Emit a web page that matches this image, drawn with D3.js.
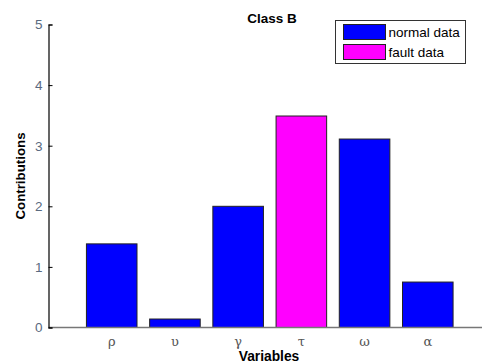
<!DOCTYPE html>
<html>
<head>
<meta charset="utf-8">
<script src="https://cdn.jsdelivr.net/npm/d3@7"></script>
<style>
  html, body { margin: 0; padding: 0; background: #fff; }
  svg { display: block; }
</style>
</head>
<body>
<svg id="chart" width="482" height="364"></svg>
<script>
// Contribution of each variable for Class B
const variables = ["ρ", "υ", "γ", "τ", "ω", "α"];
const contributions = [1.38, 0.14, 2.0, 3.49, 3.11, 0.75];
const isFault = [false, false, false, true, false, false];
const yTicks = [0, 1, 2, 3, 4, 5];
const legendLabels = ["normal data", "fault data"];
const legendColors = ["#0000ff", "#ff00ff"];

const svg = d3.select("#chart");
const W = 482, H = 364;
const sans = "Arial, 'Liberation Sans', sans-serif";

// Plot area: x positions 0..7 (categories at 1..6), y from 0 to 5
const x = d3.scaleLinear().domain([0, 7]).range([48.5, 491]);
const y = d3.scaleLinear().domain([0, 5]).range([327.5, 24.5]);
const step = x(1) - x(0);
const barW = step * 0.8;

// Bars
svg.append("g").selectAll("rect")
  .data(variables)
  .join("rect")
  .attr("x", (d, i) => x(i + 1) - barW / 2)
  .attr("y", (d, i) => y(contributions[i]))
  .attr("width", barW)
  .attr("height", (d, i) => y(0) - y(contributions[i]))
  .attr("fill", (d, i) => isFault[i] ? legendColors[1] : legendColors[0])
  .attr("stroke", "#222")
  .attr("stroke-width", 1);

// Bottom axis line (grey), category labels
svg.append("line")
  .attr("x1", x(0)).attr("x2", W)
  .attr("y1", y(0)).attr("y2", y(0))
  .attr("stroke", "#777").attr("stroke-width", 1.6);

svg.append("g").selectAll("text")
  .data(variables)
  .join("text")
  .attr("x", (d, i) => x(i + 1))
  .attr("y", 346)
  .attr("text-anchor", "middle")
  .attr("font-family", "'DejaVu Serif', 'Liberation Serif', serif")
  .attr("font-size", 13)
  .attr("fill", "#555")
  .text(d => d);

// Left axis
const yAxis = d3.axisLeft(y).tickValues(yTicks).tickSize(-4).tickPadding(6).tickFormat(d3.format("d"));
const gy = svg.append("g").attr("transform", `translate(${x(0)},0)`).call(yAxis);
gy.select(".domain").attr("stroke", "#000").attr("stroke-width", 1.2);
gy.selectAll(".tick line").attr("stroke", "#000");
gy.selectAll(".tick text")
  .attr("font-family", sans)
  .attr("font-size", 13.5)
  .attr("fill", "#5a6a80");

// Axis titles and chart title
svg.append("text")
  .attr("transform", `translate(25,176) rotate(-90)`)
  .attr("text-anchor", "middle")
  .attr("font-family", sans)
  .attr("font-weight", "bold")
  .attr("font-size", 13.3)
  .text("Contributions");

svg.append("text")
  .attr("x", 269).attr("y", 361)
  .attr("text-anchor", "middle")
  .attr("font-family", sans)
  .attr("font-weight", "bold")
  .attr("font-size", 13.8)
  .text("Variables");

svg.append("text")
  .attr("x", 272).attr("y", 23)
  .attr("text-anchor", "middle")
  .attr("font-family", sans)
  .attr("font-weight", "bold")
  .attr("font-size", 13.5)
  .text("Class B");

// Legend
const lg = svg.append("g");
lg.append("rect")
  .attr("x", 335.5).attr("y", 20.5).attr("width", 130).attr("height", 43)
  .attr("fill", "#fff").attr("stroke", "#333").attr("stroke-width", 1);
legendLabels.forEach((lab, i) => {
  const ry = 24.5 + i * 20;
  lg.append("rect")
    .attr("x", 343.5).attr("y", ry).attr("width", 42).attr("height", 15)
    .attr("fill", legendColors[i]).attr("stroke", "#222").attr("stroke-width", 1);
  lg.append("text")
    .attr("x", 388.5).attr("y", ry + 12)
    .attr("font-family", sans)
    .attr("font-size", 13.5)
    .attr("fill", "#000")
    .text(lab);
});
</script>
</body>
</html>
